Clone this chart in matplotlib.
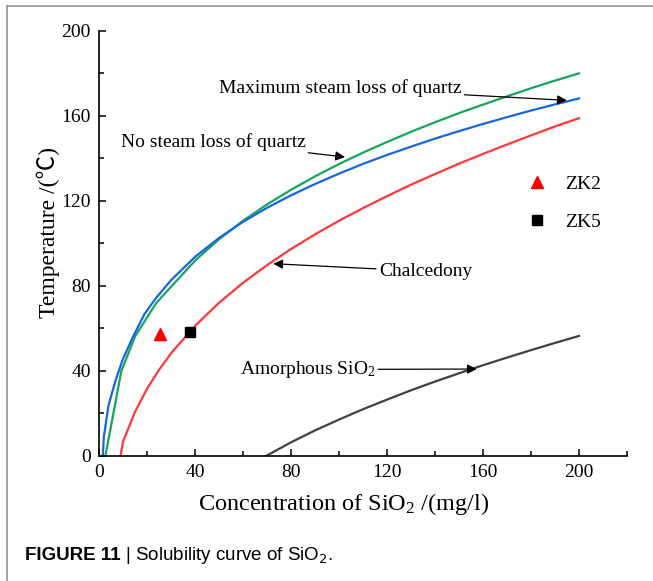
import matplotlib
matplotlib.use("Agg")
import matplotlib.pyplot as plt
from matplotlib.lines import Line2D
from matplotlib.ticker import MultipleLocator

plt.rcParams['font.family'] = ['Liberation Serif', 'DejaVu Serif']
plt.rcParams['mathtext.fontset'] = 'custom'
plt.rcParams['mathtext.rm'] = 'Liberation Serif'
plt.rcParams['mathtext.it'] = 'Liberation Serif:italic'

# ---- data ----
max_steam_x = [1.6, 2.0, 4.0, 7.0, 10, 14, 19, 24, 30, 40, 50, 60, 70, 80, 90,
               100, 110, 120, 130, 140, 150, 160, 170, 180, 190, 200]
max_steam_y = [0, 8.7, 23.8, 35.7, 45.5, 55.5, 66.7, 74.5, 82.5, 93.5, 102.4, 110.0,
               116.6, 122.5, 127.8, 132.7, 137.3, 141.5, 145.4, 149.2, 152.7, 156.1,
               159.3, 162.4, 165.3, 168.1]

no_steam_x = [2.7, 9.3, 15, 20, 24, 30, 40, 50, 60, 70, 80, 90, 100, 110, 120,
              130, 140, 150, 160, 170, 180, 190, 200]
no_steam_y = [0, 39.7, 56, 65, 72, 79.4, 91.7, 101.8, 110.5, 118.2, 125.1, 131.4,
              137.2, 142.6, 147.6, 152.4, 156.9, 161.2, 165.2, 169.1, 172.9, 176.5, 179.9]

chalcedony_x = [9, 10, 15, 20, 25, 30, 40, 50, 60, 70, 80, 90, 100, 110, 120,
                130, 140, 150, 160, 170, 180, 190, 200]
chalcedony_y = [0, 6.5, 20.5, 31.4, 40.3, 48.1, 61.0, 71.9, 81.3, 89.6, 97.2, 104.1,
                110.5, 116.5, 122.1, 127.5, 132.5, 137.4, 142.0, 146.4, 150.7, 154.9, 158.8]

amorphous_x = [70, 80, 90, 100, 110, 120, 130, 140, 150, 160, 170, 180, 190, 200]
amorphous_y = [0, 6.2, 11.8, 16.9, 21.8, 26.3, 30.7, 34.8, 38.7, 42.5, 46.1, 49.6, 53.0, 56.3]

samples = ['ZK2', 'ZK5']
sample_x = [25.5, 38]
sample_y = [57, 58]

x_ticks = [0, 40, 80, 120, 160, 200]
y_ticks = [0, 40, 80, 120, 160, 200]

# ---- figure ----
W, H = 653, 581
fig = plt.figure(figsize=(W / 100, H / 100), dpi=100)
ax = fig.add_axes([99 / W, 1 - 455.5 / H, 528 / W, 424.8 / H])

c_green = '#16a55a'
c_blue = '#1766dd'
c_red = '#ff3838'
c_gray = '#404040'

ax.plot(no_steam_x, no_steam_y, color=c_green, lw=1.6)
ax.plot(max_steam_x, max_steam_y, color=c_blue, lw=1.6)
ax.plot(chalcedony_x, chalcedony_y, color=c_red, lw=1.6)
ax.plot(amorphous_x, amorphous_y, color=c_gray, lw=1.6)

ax.plot(sample_x[0], sample_y[0], linestyle='none', marker='^', ms=9,
        color='#ff0000', label=samples[0])
ax.plot(sample_x[1], sample_y[1], linestyle='none', marker='s', ms=6.5,
        color='black', label=samples[1])

ax.set_xlim(0, 220)
ax.set_ylim(0, 200)
ax.set_xticks(x_ticks)
ax.set_yticks(y_ticks)
ax.xaxis.set_minor_locator(MultipleLocator(20))
ax.yaxis.set_minor_locator(MultipleLocator(20))
ax.tick_params(which='major', direction='in', length=5, width=1.1,
               labelsize=14, pad=6)
ax.tick_params(which='minor', direction='in', length=3.5, width=1.1)
for s in ['top', 'right']:
    ax.spines[s].set_visible(False)
for s in ['left', 'bottom']:
    ax.spines[s].set_linewidth(1.2)

ax.set_xlabel('Concentration of SiO$_2$ /(mg/l)', fontsize=17.5)
ax.xaxis.set_label_coords((344 - 99) / 528, (455.5 - 491) / 424.8)
ax.set_ylabel('Temperature /(\u2103)', fontsize=17,
              family=['Liberation Serif', 'Noto Sans CJK SC', 'DejaVu Sans'])
ax.yaxis.set_label_coords((60 - 99) / 528, (455.5 - 232) / 424.8)

arrow = dict(arrowstyle='-|>', color='black', lw=0.9, mutation_scale=14,
             shrinkA=0, shrinkB=0)
fs = 14
ax.annotate('Maximum steam loss of quartz', xy=(194.9, 167.2), xytext=(100.6, 173),
            ha='center', va='center', fontsize=fs, arrowprops=arrow)
ax.annotate('No steam loss of quartz', xy=(102.5, 140.5), xytext=(47.5, 147.8),
            ha='center', va='center', fontsize=fs, arrowprops=arrow)
ax.annotate('Chalcedony', xy=(72.6, 90.3), xytext=(136, 86.7),
            ha='center', va='center', fontsize=fs, arrowprops=arrow)
ax.annotate('Amorphous SiO$_2$', xy=(157.4, 40.7), xytext=(86.9, 40.5),
            ha='center', va='center', fontsize=fs, arrowprops=arrow)

ax.legend(loc='upper left', bbox_to_anchor=(0.811, 0.659), frameon=False,
          fontsize=fs, handlelength=1.0, handletextpad=0.95, labelspacing=1.05,
          borderpad=0, borderaxespad=0)

# page frame
fig.add_artist(Line2D([7.3 / W, 7.3 / W], [0, 1 - 5.7 / H],
                      color='#8a8a8a', lw=1.1, transform=fig.transFigure))
fig.add_artist(Line2D([7.3 / W, 1], [1 - 5.7 / H, 1 - 5.7 / H],
                      color='#8a8a8a', lw=1.1, transform=fig.transFigure))

# caption
cap_fs = 13.5
t1 = fig.text(25 / W, 1 - 555 / H, 'FIGURE 11', fontsize=cap_fs, fontweight='bold',
              family='Liberation Sans', va='center', ha='left')
fig.canvas.draw()
bb = t1.get_window_extent(fig.canvas.get_renderer())
fig.text(bb.x1 / W + 4 / W, 1 - 555 / H, '| Solubility curve of SiO$_\\mathsf{2}$.',
         fontsize=cap_fs, family='Liberation Sans', va='center', ha='left',
         math_fontfamily='dejavusans')

fig.savefig('out.png', dpi=100)
